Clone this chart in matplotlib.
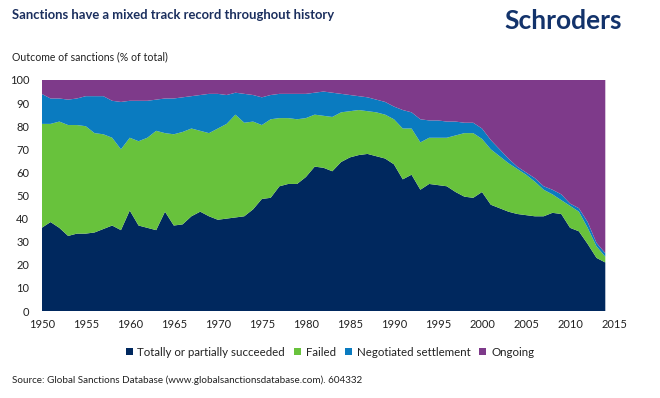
import matplotlib
matplotlib.use("Agg")
import matplotlib.pyplot as plt
import numpy as np

years = list(range(1950, 2015))

succeeded = [36, 38.5, 36, 32.5, 33.5, 33.5, 34, 35.5, 37, 35,
             43.5, 37, 36, 35, 43, 37, 37.5, 41, 43, 41,
             39.5, 40, 40.5, 41, 44, 48.5, 49, 54, 55, 55,
             58, 62.5, 62, 60.5, 64.5, 66.5, 67.5, 68, 67, 66,
             63.5, 57, 59, 52.5, 55, 54.5, 54, 51.5, 49.5, 49,
             51.5, 46, 44.5, 43, 42, 41.5, 41, 41, 42.5, 42,
             36, 34.5, 29, 23, 21]
failed = [45, 42.5, 46, 48, 47, 46.5, 43, 41, 38, 35,
          31.5, 36.5, 39, 43, 34, 39.5, 40, 38, 35, 36,
          39.5, 41, 44.5, 40.5, 38, 32, 34, 29.5, 28.5, 28,
          25.5, 22.5, 22.5, 23.5, 21.5, 20, 19.5, 18.5, 19, 19,
          19.5, 22, 20, 20.5, 20, 20.5, 21, 24.5, 27.5, 28,
          23, 24, 22.5, 21, 19.5, 17.5, 15, 11.5, 8, 6,
          9.5, 8.5, 7, 5, 2.5]
negotiated = [13, 11, 10, 11, 11.5, 13, 16, 16.5, 16, 20.5,
              16, 17.5, 16, 13.5, 15, 15.5, 15, 14, 15.5, 17,
              15, 12.5, 9.5, 12.5, 11.5, 12, 10.5, 10.5, 10.5, 11,
              10.5, 9.5, 10.5, 10.5, 8, 7, 6, 6, 5.5, 5.5,
              5.5, 8, 7, 10, 7.5, 7.5, 7, 6, 4.5, 4.5,
              4.5, 4, 3, 2, 1, 1, 1.5, 1.5, 2, 2.5,
              1, 1.5, 2.5, 1.5, 1.5]
ongoing = [6, 8, 8, 8.5, 8, 7, 7, 7, 9, 9.5,
           9, 9, 9, 8.5, 8, 8, 7.5, 7, 6.5, 6,
           6, 6.5, 5.5, 6, 6.5, 7.5, 6.5, 6, 6, 6,
           6, 5.5, 5, 5.5, 6, 6.5, 7, 7.5, 8.5, 9.5,
           11.5, 13, 14, 17, 17.5, 17.5, 18, 18, 18.5, 18.5,
           21, 26, 30, 34, 37.5, 40, 42.5, 46, 47.5, 49.5,
           53.5, 55.5, 61.5, 70.5, 75]

series_labels = ["Totally or partially succeeded", "Failed",
                 "Negotiated settlement", "Ongoing"]
colors = ["#00285e", "#68c23c", "#0a7bc0", "#7e3a8a"]

y_ticks = list(range(0, 101, 10))
x_ticks = list(range(1950, 2016, 5))

title = "Sanctions have a mixed track record throughout history"
subtitle = "Outcome of sanctions (% of total)"
source = "Source: Global Sanctions Database (www.globalsanctionsdatabase.com). 604332"
logo = "Schroders"

plt.rcParams['font.family'] = ['Lato', 'DejaVu Sans']

fig = plt.figure(figsize=(6.6, 3.98), dpi=100)
px_per_year = (605.3 - 41.7) / 64
right_px = 41.7 + 65 * px_per_year
ax = fig.add_axes([41.7 / 660, 1 - 311 / 398, (right_px - 41.7) / 660, (311 - 80) / 398])

ax.stackplot(years, succeeded, failed, negotiated, ongoing,
             colors=colors, labels=series_labels, linewidth=0)

ax.set_ylim(0, 100)
ax.set_yticks(y_ticks)
ax.set_xticks(x_ticks)
ax.set_xticklabels([str(x) for x in x_ticks])
ax.set_xlim(1950, 2015)
ax.tick_params(axis='both', length=0, labelsize=8, colors='#222222')
ax.tick_params(axis='y', pad=9)
ax.tick_params(axis='x', pad=6)
for s in ax.spines.values():
    s.set_visible(False)

fig.text(12 / 660, 1 - 15 / 398, title, fontsize=9.4, fontweight='bold',
         color='#1b2f5e', va='center', ha='left')
fig.text(622 / 660, 1 - 21 / 398, logo, fontsize=19, fontweight='bold',
         color='#13336b', va='center', ha='right')
fig.text(12 / 660, 1 - 57 / 398, subtitle, fontsize=7.6, color='#222222',
         va='center', ha='left')
fig.text(12 / 660, 1 - 380 / 398, source, fontsize=7.1, color='#222222',
         va='center', ha='left')

handles, labels = ax.get_legend_handles_labels()
fig.legend(handles, labels, loc='center', bbox_to_anchor=(330 / 660, 1 - 352 / 398),
           ncol=4, frameon=False, fontsize=8.3, handlelength=0.6, handleheight=0.6,
           handletextpad=0.4, columnspacing=0.8, labelcolor='#222222')

fig.savefig("out.png", dpi=100)
